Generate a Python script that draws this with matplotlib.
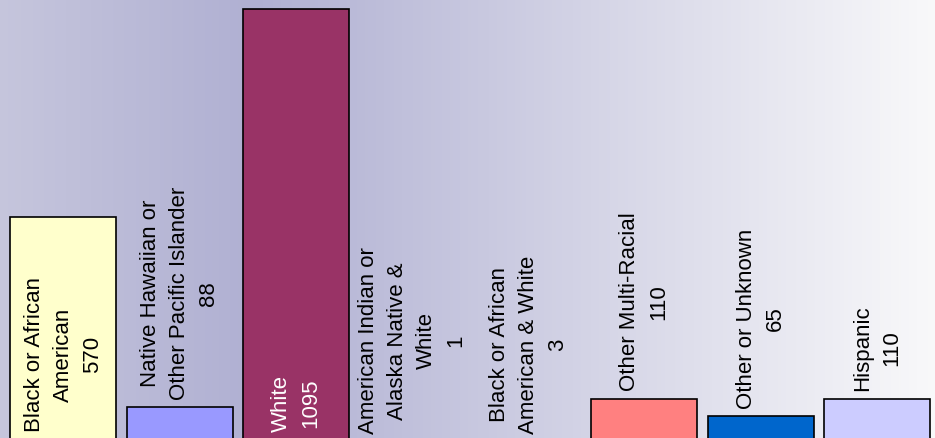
import numpy as np
import matplotlib.pyplot as plt
import matplotlib
from matplotlib.colors import LinearSegmentedColormap

matplotlib.rcParams['font.family'] = ['Liberation Sans', 'DejaVu Sans']

categories = ['Black or African\nAmerican', 'Native Hawaiian or\nOther Pacific Islander', 'White',
              'American Indian or\nAlaska Native &\nWhite', 'Black or African\nAmerican & White',
              'Other Multi-Racial', 'Other or Unknown', 'Hispanic']
counts = [570, 88, 1095, 1, 3, 110, 65, 110]
bar_colors = ['#FFFFCC', '#9999FF', '#993366', '#FFFFCC', '#FFFFCC', '#FF8080', '#0066CC', '#CCCCFF']
label_colors = ['black', 'black', 'white', 'black', 'black', 'black', 'black', 'black']


fig = plt.figure(figsize=(9.35, 4.39), dpi=100)
ax = fig.add_axes([0, 0, 1, 1])
ax.set_xlim(-0.546, 7.5)
ax.set_ylim(10.4, 1120.4)
ax.axis('off')

# background gradient, darkest a quarter of the way in, fading to white at the right
bg = LinearSegmentedColormap.from_list('bg', [(0.0, (0.775, 0.775, 0.865)),
                                              (0.27, (0.69, 0.69, 0.825)),
                                              (1.0, (0.975, 0.975, 0.98))])
grad = np.linspace(0, 1, 512).reshape(1, -1)
ax.imshow(grad, cmap=bg, aspect='auto', extent=(-0.546, 7.5, 10.4, 1120.4), zorder=0)

x = np.arange(len(counts))
ax.bar(x, counts, width=0.912, color=bar_colors, edgecolor='black', linewidth=1.2, zorder=2)

for xi, cat, n, tc in zip(x, categories, counts, label_colors):
    txt = cat + '\n' + str(n)
    if n > 500:
        # inside base
        ax.annotate(txt, xy=(xi, 0), xytext=(0, 8), textcoords='offset points',
                    rotation=90, ha='center', va='bottom', ma='center', linespacing=1.5,
                    fontsize=16, color=tc, zorder=3, annotation_clip=False)
    else:
        # outside end
        ax.annotate(txt, xy=(xi, n), xytext=(0, 6), textcoords='offset points',
                    rotation=90, ha='center', va='bottom', ma='center', linespacing=1.5,
                    fontsize=16, color=tc, zorder=3, annotation_clip=False)

fig.savefig('out.png', dpi=100)
